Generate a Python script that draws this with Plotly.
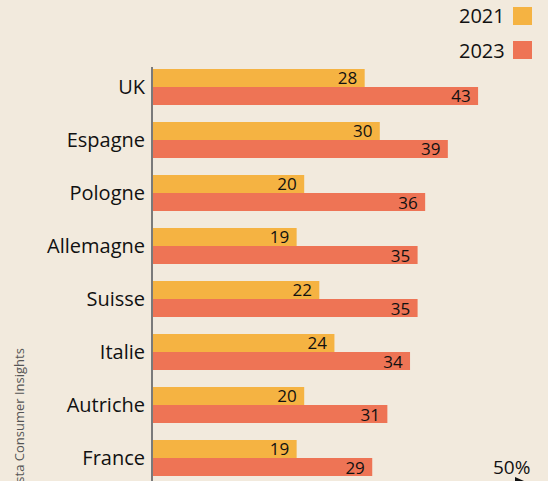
import plotly.graph_objects as go

countries = ["UK", "Espagne", "Pologne", "Allemagne", "Suisse", "Italie", "Autriche", "France"]
values_2021 = [28, 30, 20, 19, 22, 24, 20, 19]
values_2023 = [43, 39, 36, 35, 35, 34, 31, 29]
series_names = ["2021", "2023"]
colors = ["#F5B342", "#EE7455"]
BG = "#F2EADD"
FONT = "Open Sans"
INK = "#111111"

W, H = 548, 481
ML, MT = 153, 67
PW, PH = W - ML, H - MT

def px_x(x):
    return (x - ML) / PW

def px_y(y):
    return (H - y) / PH

fig = go.Figure()
for name, vals, col in zip(series_names, [values_2021, values_2023], colors):
    fig.add_trace(go.Bar(
        y=countries, x=vals, name=name, orientation="h",
        marker=dict(color=col, line=dict(width=0)),
        text=[f"{v}\u00a0" for v in vals], textposition="inside", insidetextanchor="end",
        textangle=0,
        textfont=dict(family=FONT, size=17, color=INK),
        showlegend=False, hoverinfo="skip",
    ))

fig.update_layout(
    width=W, height=H,
    margin=dict(l=ML, r=0, t=MT, b=0),
    paper_bgcolor=BG, plot_bgcolor=BG,
    barmode="group", bargap=0.32, bargroupgap=0,
    uniformtext=dict(mode="show", minsize=17),
    font=dict(family=FONT, color=INK),
    xaxis=dict(range=[0, PW / 7.56], showgrid=False, zeroline=False,
               showticklabels=False, showline=False),
    yaxis=dict(range=[7.434, -0.377], showgrid=False, zeroline=False,
               showline=True, linecolor="#7a7a7a", linewidth=2,
               tickfont=dict(family=FONT, size=20, color=INK),
               ticks="", ticklabelstandoff=2),
)

# legend (text left of swatch)
leg = [(16, 7, 25), (50, 41, 59)]
for (yc, y0, y1), name, col in zip(leg, series_names, colors):
    fig.add_annotation(x=px_x(507), y=px_y(yc), xref="paper", yref="paper",
                       text=name, showarrow=False, xanchor="right", yanchor="middle",
                       font=dict(family=FONT, size=20, color=INK))
    fig.add_shape(type="rect", xref="paper", yref="paper",
                  x0=px_x(513), x1=px_x(532), y0=px_y(y1), y1=px_y(y0),
                  fillcolor=col, line=dict(width=0))

fig.add_annotation(x=px_x(511), y=px_y(467), xref="paper", yref="paper",
                   text="50%", showarrow=False, xanchor="center", yanchor="middle",
                   font=dict(family=FONT, size=19, color=INK))
fig.add_shape(type="path", xref="paper", yref="paper",
              path=f"M {px_x(515)} {px_y(477)} L {px_x(524)} {px_y(481)} L {px_x(515)} {px_y(481)} Z",
              fillcolor=INK, line=dict(width=0))

fig.add_annotation(x=px_x(18), y=px_y(347), xref="paper", yref="paper",
                   text="Source : Statista Consumer Insights", showarrow=False, textangle=-90,
                   xanchor="center", yanchor="top",
                   font=dict(family=FONT, size=13, color="#555555"))

fig.write_html("out.html")
